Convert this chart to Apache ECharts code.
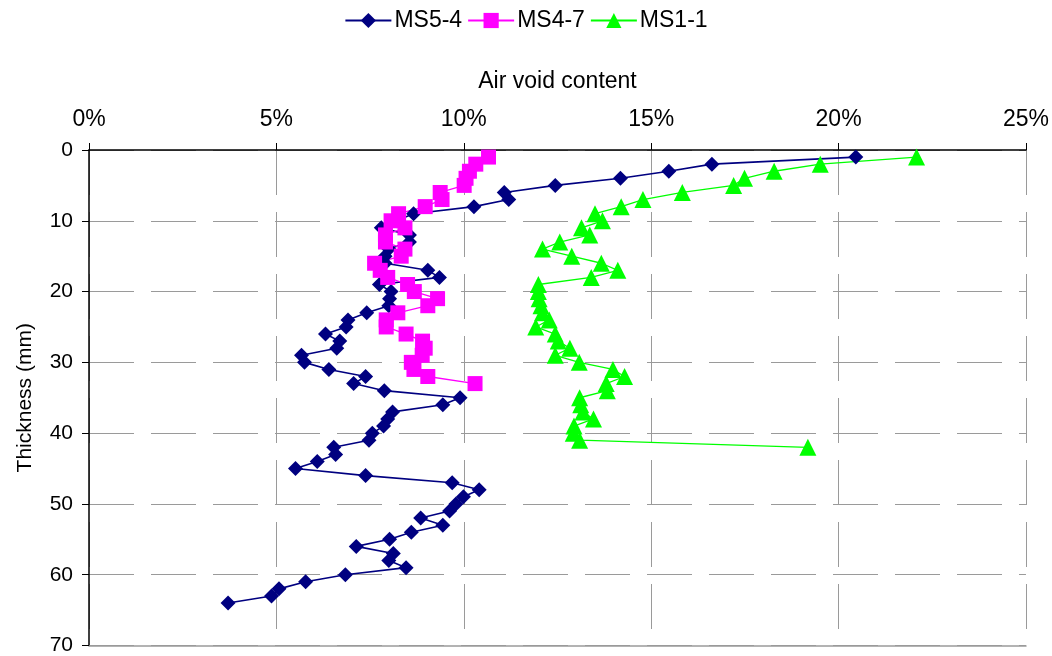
<!DOCTYPE html>
<html>
<head>
<meta charset="utf-8">
<script src="https://cdn.jsdelivr.net/npm/echarts@6/dist/echarts.min.js"></script>
<style>
html,body{margin:0;padding:0;background:#fff;}
#chart{width:1052px;height:656px;}
</style>
</head>
<body>
<div id="chart"></div>
<script>
// Depth (mm) for each measurement
var depthMS54 = [1,2,3,4,5,6,7,8,9,10,11,12,13,14,15,16,17,18,19,20,21,22,23,24,25,26,27,28,29,30,31,32,33,34,35,36,37,38,39,40,41,42,43,44,45,46,47,48,49,50,51,52,53,54,55,56,57,58,59,60,61,62,63,64];
var depthMS47 = [1,2,3,4,5,6,7,8,9,10,11,12,13,14,15,16,17,18,19,20,21,22,23,24,25,26,27,28,29,30,31,32,33];
var depthMS11 = [1,2,3,4,5,6,7,8,9,10,11,12,13,14,15,16,17,18,19,20,21,22,23,24,25,26,27,28,29,30,31,32,33,34,35,36,37,38,39,40,41,42];

// Air void content (%)
var voidMS54 = [20.46,16.62,15.47,14.18,12.44,11.08,11.2,10.27,8.66,8.2,7.8,8.55,8.55,8.0,7.9,7.9,9.04,9.35,7.75,8.06,8.02,8.0,7.41,6.91,6.86,6.31,6.69,6.61,5.67,5.75,6.4,7.38,7.06,7.88,9.9,9.44,8.1,7.97,7.86,7.56,7.47,6.53,6.58,6.09,5.51,7.38,9.69,10.41,9.99,9.79,9.62,8.85,9.44,8.6,8.02,7.13,8.12,8.0,8.46,6.84,5.78,5.07,4.87,3.71];
var voidMS47 = [10.66,10.32,10.15,10.06,10.01,9.37,9.42,8.97,8.26,8.06,8.43,7.91,7.91,8.43,8.33,7.62,7.77,7.97,8.5,8.68,9.3,9.04,8.24,7.93,7.93,8.46,8.9,8.97,8.89,8.6,8.67,9.04,10.3];
var voidMS11 = [22.08,19.51,18.28,17.49,17.2,15.83,14.78,14.2,13.5,13.7,13.14,13.36,12.56,12.1,12.88,13.67,14.11,13.4,11.99,11.99,12.01,12.06,12.1,12.28,11.92,12.44,12.52,12.83,12.44,13.08,13.98,14.29,13.8,13.83,13.09,13.12,13.18,13.46,12.94,12.92,13.09,19.18];

var seriesNames = ['MS5-4','MS4-7','MS1-1'];

function pairs(xs, ys){ var out=[]; for(var i=0;i<xs.length;i++){ out.push([xs[i], ys[i]]); } return out; }

var FONT = 'Liberation Sans, Arial, sans-serif';
var chart = echarts.init(document.getElementById('chart'), null, {renderer:'canvas'});
var gridDash = [45,17];
chart.setOption({
  animation:false,
  backgroundColor:'#ffffff',
  textStyle:{fontFamily:FONT},
  legend:{
    data:seriesNames,
    top:4,
    left:'center',
    itemWidth:46,
    itemHeight:19,
    itemGap:5,
    textStyle:{fontFamily:FONT,fontSize:23,color:'#000',padding:[0,0,0,-2]}
  },
  grid:{left:89,right:25,top:150,bottom:9,containLabel:false},
  xAxis:[{
    type:'value',
    position:'top',
    min:0,max:25,interval:5,
    name:'Air void content',
    nameLocation:'middle',
    nameGap:57,
    nameTextStyle:{fontFamily:FONT,fontSize:23,color:'#000'},
    axisLine:{show:true,lineStyle:{color:'#000',width:1.5}},
    axisTick:{show:true,inside:false,length:7,lineStyle:{color:'#000'}},
    axisLabel:{formatter:'{value}%',fontFamily:FONT,fontSize:23,color:'#000',margin:19},
    splitLine:{show:true,lineStyle:{color:'#9a9a9a',width:1,type:gridDash}}
  },{
    type:'value',
    position:'bottom',
    min:0,max:25,
    axisLine:{show:true,lineStyle:{color:'#9a9a9a',width:1.5}},
    axisTick:{show:false},
    axisLabel:{show:false},
    splitLine:{show:false}
  }],
  yAxis:{
    type:'value',
    inverse:true,
    min:0,max:70,interval:10,
    name:'Thickness (mm)',
    nameLocation:'middle',
    nameGap:53,
    nameRotate:90,
    nameTextStyle:{fontFamily:FONT,fontSize:21,color:'#000'},
    axisLine:{show:true,lineStyle:{color:'#000',width:1.5}},
    axisTick:{show:true,inside:false,length:7,lineStyle:{color:'#000'}},
    axisLabel:{fontFamily:FONT,fontSize:21,color:'#000',margin:16},
    splitLine:{show:true,lineStyle:{color:'#9a9a9a',width:1,type:gridDash}}
  },
  series:[
    {
      name:seriesNames[0],type:'line',
      data:pairs(voidMS54, depthMS54),
      symbol:'diamond',symbolSize:15,
      itemStyle:{color:'#000080'},
      lineStyle:{color:'#000080',width:1.6}
    },
    {
      name:seriesNames[1],type:'line',
      data:pairs(voidMS47, depthMS47),
      symbol:'rect',symbolSize:15,
      itemStyle:{color:'#ff00ff'},
      lineStyle:{color:'#ff00ff',width:1.3}
    },
    {
      name:seriesNames[2],type:'line',
      data:pairs(voidMS11, depthMS11),
      symbol:'triangle',symbolSize:17,
      itemStyle:{color:'#00ff00'},
      lineStyle:{color:'#00ff00',width:1.3}
    }
  ]
});
</script>
</body>
</html>
